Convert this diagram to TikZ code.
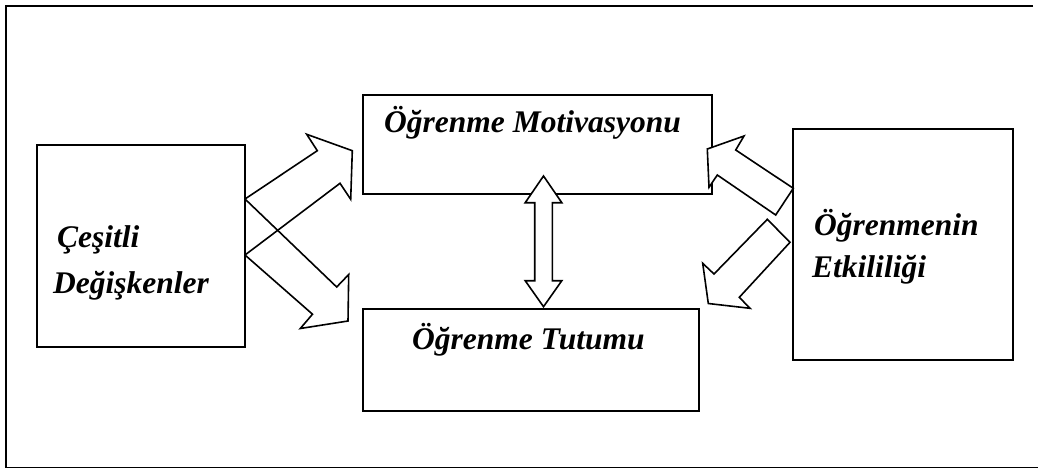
\documentclass[tikz,border=0pt]{standalone}
\usepackage{fontspec}
\setmainfont{Liberation Serif}
\usepackage{tikz}

\begin{document}
\begin{tikzpicture}[%
    x=1pt, y=-1pt,
    box/.style={rectangle, draw=black, line width=1.9pt, anchor=north west, inner sep=0pt},
    lbl/.style={anchor=base west, inner sep=0pt, font=\bfseries\itshape\fontsize{31.5}{37}\selectfont},
    hollow/.style={draw=black, line width=1.6pt, line join=miter},
    solid/.style={draw=black, fill=white, line width=1.6pt, line join=miter}
]
\useasboundingbox (0,0) rectangle (1038,469);

% Frame
\draw[line width=1.9pt] (1033,6) -- (6,6) -- (6,467.5) -- (1038,467.5);

% Box Nodes
\node[box, minimum width=208pt, minimum height=202pt] (cesitli)    at (36,144)  {};
\node[box, minimum width=349pt, minimum height=99pt]  (motivasyon) at (362,94)  {};
\node[box, minimum width=336pt, minimum height=102pt] (tutum)      at (362,308) {};
\node[box, minimum width=220pt, minimum height=231pt] (etkililik)  at (792,128) {};

% Left Arrows
\draw[hollow] (245,199) -- (317.3,150.7) -- (306.7,134.3) -- (352.3,150.7)
    -- (350.7,199.3) -- (340,183.3) -- (245,255) -- cycle;
\draw[hollow] (245,199) -- (336.7,287) -- (348.7,274.5) -- (348,321)
    -- (300.3,328.5) -- (312.5,314.2) -- (245,255) -- cycle;

% Right Arrows
\draw[solid] (793.3,188.3) -- (735.7,150) -- (744,136) -- (707.3,149)
    -- (709,187.3) -- (717.3,175) -- (775.7,215) -- cycle;
\draw[solid] (767.3,219.3) -- (790,242.3) -- (739.3,297.3) -- (750,308.3)
    -- (708.3,303.5) -- (702.7,263.3) -- (714,274) -- cycle;

% Middle Arrow
\draw[solid] (543.5,176) -- (561.8,202.7) -- (552.3,202.7) -- (552.3,280.7)
    -- (561.8,280.7) -- (543.5,306.7) -- (525.2,280.7) -- (534.7,280.7)
    -- (534.7,202.7) -- (525.2,202.7) -- cycle;

% Texts
\node[lbl] (cesitlitext)    at (57,247)  {Çeşitli};
\node[lbl] (degiskentext)   at (53,293)  {Değişkenler};
\node[lbl] (motivasyontext) at (384,132) {Öğrenme Motivasyonu};
\node[lbl] (tutumtext)      at (412,349) {Öğrenme Tutumu};
\node[lbl] (ogrenmenintext) at (814,235) {Öğrenmenin};
\node[lbl] (etkiliktext)    at (812,277) {Etkililiği};

\end{tikzpicture}
\end{document}
